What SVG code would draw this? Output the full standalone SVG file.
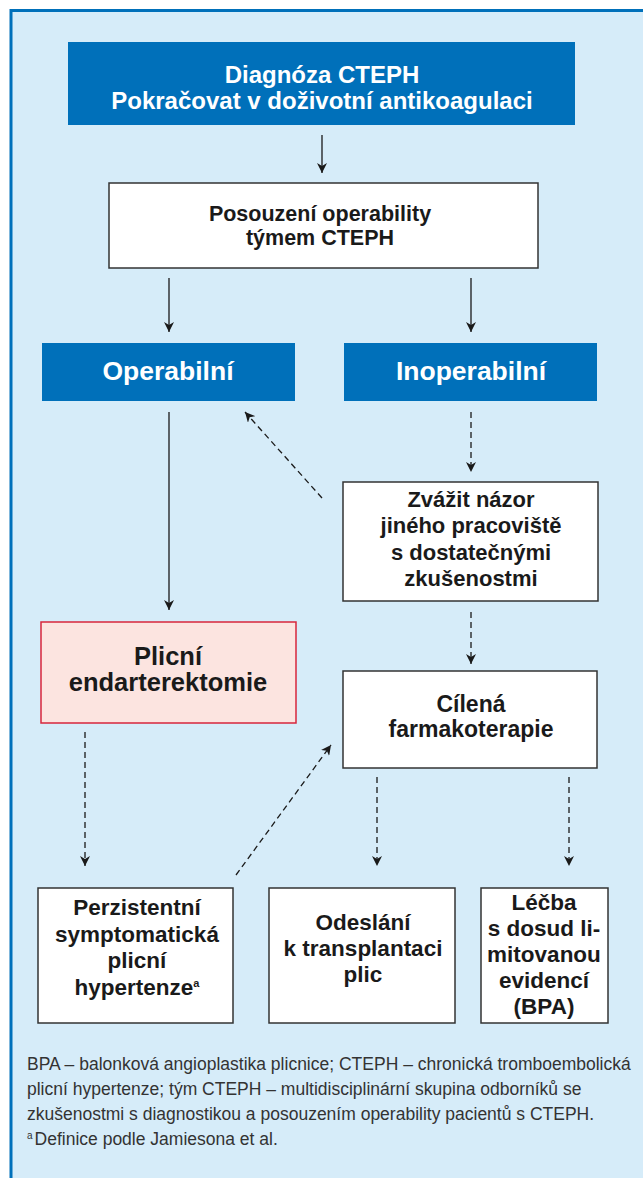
<svg xmlns="http://www.w3.org/2000/svg" width="643" height="1178" viewBox="0 0 643 1178">
<defs>
<style>
.t{font-family:"Liberation Sans",Arial,sans-serif;font-weight:bold;text-anchor:middle;}
.w{fill:#ffffff;}
.k{fill:#1a1a1a;}
.blue{fill:#0070ba;}
.wb{fill:#ffffff;stroke:#333333;stroke-width:1.5;}
.pk{fill:#fce4e0;stroke:#d7263d;stroke-width:1.5;}
.sl{stroke:#1a1a1a;stroke-width:1.3;fill:none;marker-end:url(#ah);}
.dl{stroke:#1a1a1a;stroke-width:1.3;fill:none;stroke-dasharray:6 4;marker-end:url(#ah);}
.fn{font-family:"Liberation Sans",Arial,sans-serif;font-size:17.5px;fill:#333333;}
</style>
<marker id="ah" viewBox="0 0 10 10" refX="10" refY="5" markerWidth="10" markerHeight="10" markerUnits="userSpaceOnUse" orient="auto">
<path d="M0,0 L10,5 L0,10 L3,5 z" fill="#1a1a1a"/>
</marker>
</defs>
<rect x="11" y="10.5" width="640" height="1180" fill="#d6ecf9" stroke="#0070ba" stroke-width="3"/>
<g id="connectors">
<line class="sl" x1="322" y1="135" x2="322" y2="173"/>
<line class="sl" x1="169" y1="278" x2="169" y2="332"/>
<line class="sl" x1="471" y1="278" x2="471" y2="332"/>
<line class="sl" x1="169" y1="412" x2="169" y2="610"/>
<line class="dl" x1="471" y1="412" x2="471" y2="472"/>
<line class="dl" x1="322" y1="498" x2="245" y2="412"/>
<line class="dl" x1="471" y1="612" x2="471" y2="664"/>
<line class="dl" x1="85" y1="732" x2="85" y2="866"/>
<line class="dl" x1="236" y1="875" x2="331" y2="745"/>
<line class="dl" x1="377" y1="777" x2="377" y2="866"/>
<line class="dl" x1="569" y1="777" x2="569" y2="866"/>
</g>
<g id="n-diagnoza">
<rect class="blue" x="68" y="42" width="507" height="83"/>
<text class="t w" font-size="24" x="322" y="83">Diagnóza CTEPH</text>
<text class="t w" font-size="24" x="322" y="109">Pokračovat v doživotní antikoagulaci</text>
</g>
<g id="n-posouzeni">
<rect class="wb" x="109" y="183" width="429" height="85"/>
<text class="t k" font-size="21.5" x="320" y="221">Posouzení operability</text>
<text class="t k" font-size="21.5" x="320" y="245">týmem CTEPH</text>
</g>
<g id="n-operabilni">
<rect class="blue" x="42" y="343" width="253" height="58"/>
<text class="t w" font-size="26.5" x="168" y="380">Operabilní</text>
</g>
<g id="n-inoperabilni">
<rect class="blue" x="344" y="343" width="253" height="58"/>
<text class="t w" font-size="26.5" x="471" y="380">Inoperabilní</text>
</g>
<g id="n-zvazit">
<rect class="wb" x="343" y="482" width="255" height="119"/>
<text class="t k" font-size="22" x="471" y="507">Zvážit názor</text>
<text class="t k" font-size="22" x="471" y="533">jiného pracoviště</text>
<text class="t k" font-size="22" x="471" y="560">s dostatečnými</text>
<text class="t k" font-size="22" x="471" y="586">zkušenostmi</text>
</g>
<g id="n-plicni">
<rect class="pk" x="41" y="622" width="255" height="101"/>
<text class="t k" font-size="25.5" x="168" y="664.5">Plicní</text>
<text class="t k" font-size="25.5" x="168" y="691">endarterektomie</text>
</g>
<g id="n-cilena">
<rect class="wb" x="343" y="671" width="254" height="97"/>
<text class="t k" font-size="23" x="471" y="712">Cílená</text>
<text class="t k" font-size="23" x="471" y="737">farmakoterapie</text>
</g>
<g id="n-perzistentni">
<rect class="wb" x="38" y="888" width="195" height="135"/>
<text class="t k" font-size="22.5" x="137" y="915">Perzistentní</text>
<text class="t k" font-size="22.5" x="137" y="942">symptomatická</text>
<text class="t k" font-size="22.5" x="137" y="968">plicní</text>
<text class="t k" font-size="22.5" x="137" y="995">hypertenze<tspan font-size="11" dy="-8">a</tspan></text>
</g>
<g id="n-odeslani">
<rect class="wb" x="269" y="888" width="186" height="135"/>
<text class="t k" font-size="22.5" x="363" y="930">Odeslání</text>
<text class="t k" font-size="22.5" x="363" y="956">k transplantaci</text>
<text class="t k" font-size="22.5" x="363" y="982">plic</text>
</g>
<g id="n-lecba">
<rect class="wb" x="481" y="888" width="127" height="135"/>
<text class="t k" font-size="22.5" x="544" y="910">Léčba</text>
<text class="t k" font-size="22.5" x="544" y="936">s dosud li-</text>
<text class="t k" font-size="22.5" x="544" y="962">mitovanou</text>
<text class="t k" font-size="22.5" x="544" y="988">evidencí</text>
<text class="t k" font-size="22.5" x="544" y="1014">(BPA)</text>
</g>
<g id="footnote">
<text class="fn" x="27" y="1070">BPA – balonková angioplastika plicnice; CTEPH – chronická tromboembolická</text>
<text class="fn" x="27" y="1095">plicní hypertenze; tým CTEPH – multidisciplinární skupina odborníků se</text>
<text class="fn" x="27" y="1120">zkušenostmi s diagnostikou a posouzením operability pacientů s CTEPH.</text>
<text class="fn" x="27" y="1145"><tspan font-size="10" dy="-6">a</tspan><tspan dx="2" dy="6">Definice podle Jamiesona et al.</tspan></text>
</g>
</svg>
